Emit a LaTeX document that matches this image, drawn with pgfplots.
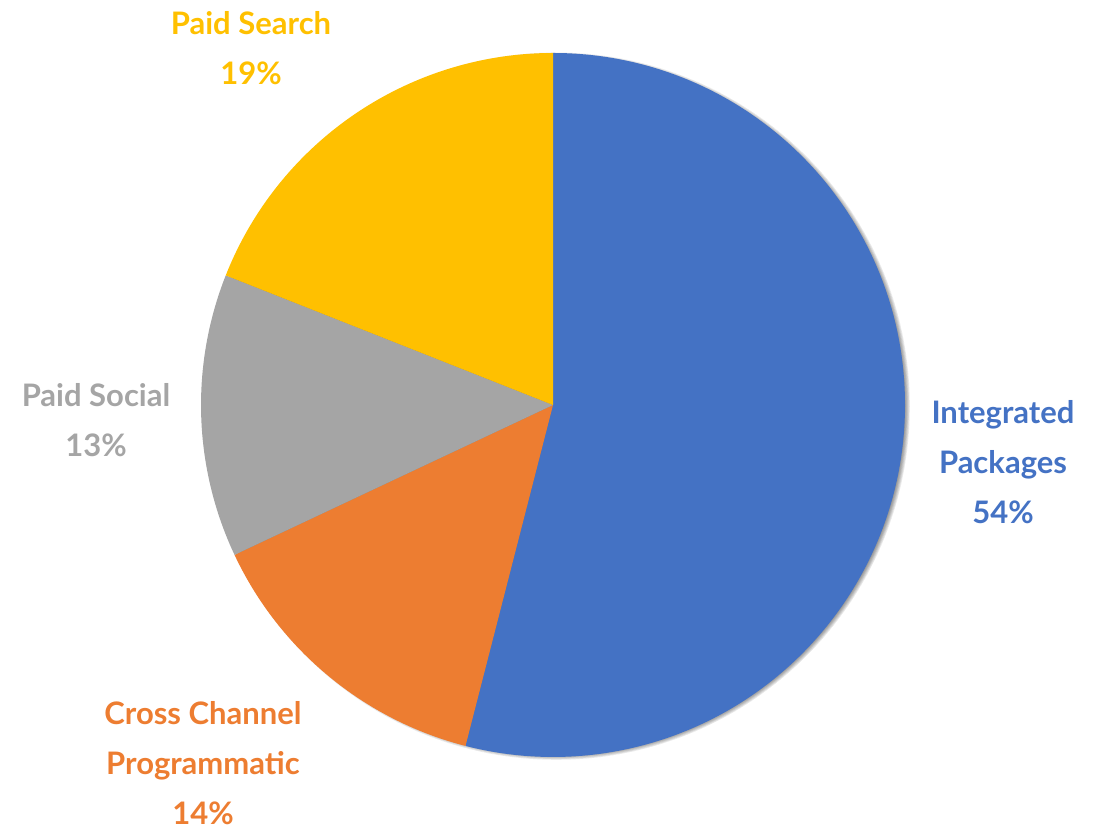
\documentclass[border=0pt]{standalone}
\usepackage{pgfplots}
\pgfplotsset{compat=1.18}
\usepackage{pgfplotstable}
\usetikzlibrary{plotmarks}
\usepackage{fontspec}
\setmainfont{Lato}
\definecolor{pieBlue}{HTML}{4472C4}
\definecolor{pieOrange}{HTML}{ED7D31}
\definecolor{pieGray}{HTML}{A5A5A5}
\definecolor{pieYellow}{HTML}{FFC000}
\tikzset{lbl/.style={font=\bfseries\fontsize{15.5}{25}\selectfont, align=center}}

% share and cumulative share before it, clockwise from 12 o'clock
\pgfplotstableread{
x   y   share cum col
553 423 54    0   pieBlue
553 423 14    54  pieOrange
553 423 13    68  pieGray
553 423 19    81  pieYellow
}\piedata

\begin{document}
\begin{tikzpicture}
\begin{axis}[
  scale only axis, width=550pt, height=414pt,
  xmin=0, xmax=1100, ymin=0, ymax=828,
  hide axis, clip=false,
]
% soft shadow, falling to the right
\addplot[only marks, mark=text, text mark={},
  scatter, scatter/@post marker code/.code={},
  scatter/@pre marker code/.code={%
    \foreach \i in {1,...,9}{\fill[draw=none, fill=black, fill opacity=0.02] (1.6pt,-0.6pt) circle[radius=173.2pt+\i*0.4pt];}%
  }] table[x=x, y=y] {\piedata};
% slices
\addplot[only marks, mark=text, text mark={},
  scatter, point meta=explicit symbolic,
  visualization depends on={\thisrow{share}\as\share},
  visualization depends on={\thisrow{cum}\as\cum},
  scatter/@post marker code/.code={},
  scatter/@pre marker code/.code={%
    \pgfmathsetmacro\sa{90-3.6*\cum}%
    \pgfmathsetmacro\ea{90-3.6*(\cum+\share)}%
    \fill[draw=none, fill=\pgfplotspointmeta] (0,0) -- (\sa:176pt) arc[start angle=\sa, end angle=\ea, radius=176pt] -- cycle;%
  }] table[x=x, y=y, meta=col] {\piedata};

\node[lbl, text=pieBlue] at (axis cs:1003,366) {Integrated\\Packages\\54\%};
\node[lbl, text=pieOrange] at (axis cs:203,65) {Cross Channel\\Programmatic\\14\%};
\node[lbl, text=pieGray] at (axis cs:96,408) {Paid Social\\13\%};
\node[lbl, text=pieYellow] at (axis cs:251,780) {Paid Search\\19\%};
\end{axis}
\pgfresetboundingbox
\path (0,0) rectangle (550pt,414pt);
\end{tikzpicture}
\end{document}
